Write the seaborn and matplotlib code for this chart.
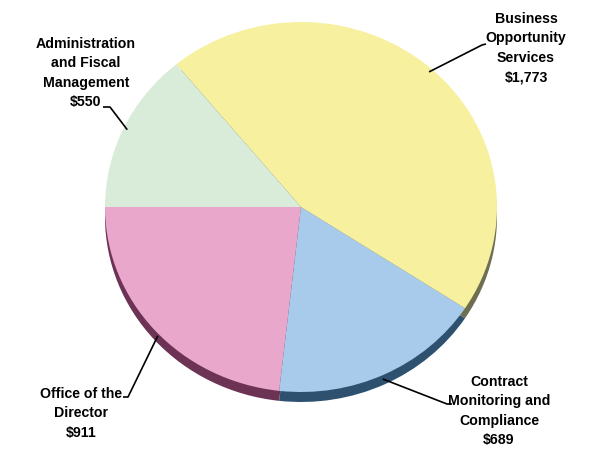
import matplotlib
matplotlib.use("Agg")
import matplotlib.pyplot as plt
import seaborn as sns
import numpy as np

# Budget by division (thousands of dollars)
divisions = [
    "Office of the\nDirector",
    "Contract\nMonitoring and\nCompliance",
    "Business\nOpportunity\nServices",
    "Administration\nand Fiscal\nManagement",
]
budgets = [911, 689, 1773, 550]
amount_labels = ["$911", "$689", "$1,773", "$550"]

face_colors = ["#EAA7CC", "#A8CAEB", "#F6F09F", "#D9ECDA"]
side_colors = ["#6C3354", "#2F5170", "#6E6E52", "#7C8E7E"]

sns.set_theme(style="white")
plt.rcParams["font.family"] = ["Liberation Sans Narrow", "Liberation Sans", "DejaVu Sans"]

W, H = 589, 450
fig = plt.figure(figsize=(W / 100, H / 100), dpi=100)
ax = fig.add_axes([0, 0, 1, 1])

# pixel geometry of the tilted pie (ellipse centre and radii)
cx, cy, rx, ry = 301, 207, 196, 185
depth = 10 / ry


def to_data(x, y):
    return (x - cx) / rx, (cy - y) / ry


# side wall: a darker copy of the pie shifted downward
ax.pie(budgets, colors=side_colors, startangle=180, counterclock=True,
       center=(0, -depth), radius=1, wedgeprops=dict(linewidth=0))
# top face
wedges, _ = ax.pie(budgets, colors=face_colors, startangle=180, counterclock=True,
                   radius=1, wedgeprops=dict(linewidth=0))

ax.set_aspect("auto")
ax.set_xlim((0 - cx) / rx, (W - cx) / rx)
ax.set_ylim((cy - H) / ry, cy / ry)
ax.axis("off")

# label block centres and leader-line elbows (pixels)
label_pos = [(81, 413), (499, 411), (526, 48), (86, 73)]
elbows = [
    [(128, 397), (123, 397)],
    [(447, 404), (452, 404)],
    [(482, 45), (486, 44)],
    [(110, 107), (103, 107)],
]

for w, name, amt, pos, elb in zip(wedges, divisions, amount_labels, label_pos, elbows):
    mid = np.deg2rad((w.theta1 + w.theta2) / 2)
    ax_, ay_ = np.cos(mid) * 0.98, np.sin(mid) * 0.98
    if ay_ < 0:
        ay_ -= depth * 0.8
    pts = [(ax_, ay_)] + [to_data(*p) for p in elb]
    xs, ys = zip(*pts)
    ax.plot(xs, ys, color="black", lw=1.2, solid_capstyle="butt")
    tx, ty = to_data(*pos)
    ax.text(tx, ty, f"{name}\n{amt}", ha="center", va="center",
            fontsize=10.2, fontweight="bold", linespacing=1.5, color="black")

fig.savefig("out.png", dpi=100, facecolor="white")
